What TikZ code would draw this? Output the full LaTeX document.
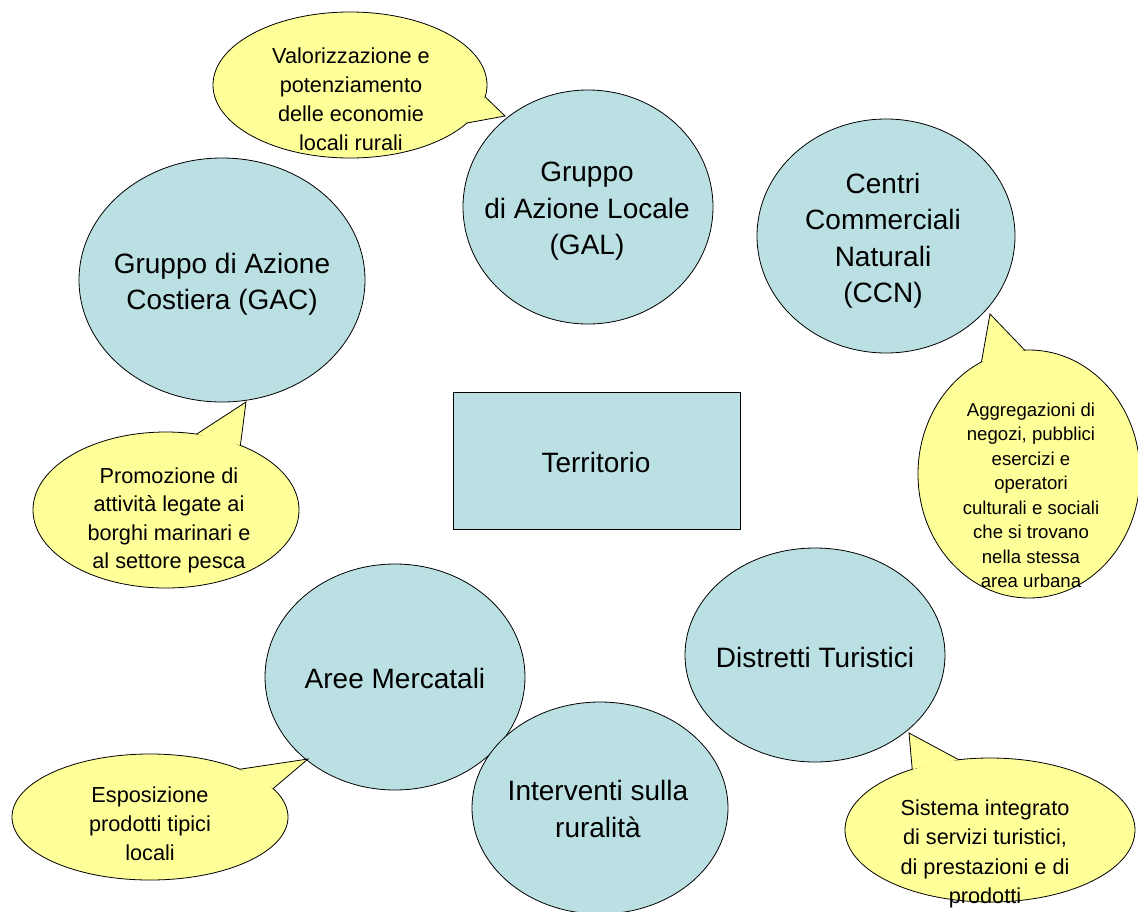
\documentclass[tikz,border=0pt]{standalone}
\usepackage{fontspec}
\setmainfont{Liberation Sans}
\usetikzlibrary{shapes.geometric}
\definecolor{bluefill}{RGB}{187,224,227}
\definecolor{yellowfill}{RGB}{255,255,153}
\newcommand\fBig{\fontsize{28}{36.5}\selectfont}
\newcommand\fMid{\fontsize{21.7}{29}\selectfont}
\newcommand\fSmall{\fontsize{18.6}{24.5}\selectfont}
\tikzset{
  blueshape/.style={ellipse, draw=black, line width=0.8pt, fill=bluefill, inner sep=0pt, outer sep=0pt},
  bluebox/.style={rectangle, draw=black, line width=0.8pt, fill=bluefill, inner sep=0pt, outer sep=0pt},
  bubble/.style={ellipse, draw=black, line width=0.8pt, fill=yellowfill, inner sep=0pt, outer sep=0pt},
  tailfill/.style={fill=yellowfill},
  tailline/.style={draw=black, line width=0.8pt, line join=miter},
  bigtext/.style={anchor=north, inner sep=0pt, align=center, font=\fBig},
  midtext/.style={anchor=north, inner sep=0pt, align=center, font=\fMid},
  smalltext/.style={anchor=north, inner sep=0pt, align=center, font=\fSmall},
}
\begin{document}
\begin{tikzpicture}[x=1pt,y=-1pt]
\useasboundingbox (0,0) rectangle (1138,911);
\clip (0,0) rectangle (1138,911);

% blue circles
\node[blueshape, minimum width=250pt, minimum height=234pt] (gal) at (588,207) {};
\node[blueshape, minimum width=258pt, minimum height=234pt] (ccn) at (886,236) {};
\node[blueshape, minimum width=286pt, minimum height=244pt] (gac) at (222,280) {};
\node[blueshape, minimum width=260pt, minimum height=226pt] (aree) at (395,677) {};
\node[blueshape, minimum width=256pt, minimum height=212pt] (interv) at (600,808) {};
\node[blueshape, minimum width=260pt, minimum height=214pt] (distr) at (815,655) {};
\node[bluebox, minimum width=287pt, minimum height=137pt] (terr) at (596.5,460.5) {};

\node[bigtext] (tgal) at (587,162) {Gruppo\\di Azione Locale\\(GAL)};
\node[bigtext] (tccn) at (883,173) {Centri\\Commerciali\\Naturali\\(CCN)};
\node[bigtext] (tgac) at (222,253) {Gruppo di Azione\\Costiera (GAC)};
\node[bigtext] (taree) at (395,668) {Aree Mercatali};
\node[bigtext] (tinterv) at (598,780) {Interventi sulla\\ruralità};
\node[bigtext] (tdistr) at (815,647) {Distretti Turistici};
\node[bigtext] (tterr) at (596,452) {Territorio};

% callout 1 (GAL)
\node[bubble, minimum width=274pt, minimum height=146pt] (c1) at (350,85) {};
\coordinate (c1tip) at (505,116);
\fill[tailfill] (c1.-5.4) -- (c1tip) -- (c1.-18.3) -- cycle;
\draw[tailline] (c1.-5.4) -- (c1tip) -- (c1.-18.3);
\node[midtext] (c1t) at (351,47.5) {Valorizzazione e\\potenziamento\\delle economie\\locali rurali};

% callout 2 (GAC)
\node[bubble, minimum width=266pt, minimum height=156pt] (c2) at (166,510) {};
\coordinate (c2tip) at (246,402);
\fill[tailfill] (c2.68.3) -- (c2tip) -- (c2.41) -- cycle;
\draw[tailline] (c2.68.3) -- (c2tip) -- (c2.41);
\node[midtext, font=\fontsize{21.7}{28.3}\selectfont] (c2t) at (169,467.5) {Promozione di\\attività legate ai\\borghi marinari e\\al settore pesca};

% callout 3 (CCN)
\node[bubble, minimum width=222pt, minimum height=248pt] (c3) at (1029,474) {};
\coordinate (c3tip) at (990,314);
\fill[tailfill] (c3.113.3) -- (c3tip) -- (c3.92.8) -- cycle;
\draw[tailline] (c3.113.3) -- (c3tip) -- (c3.92.8);
\node[smalltext] (c3t) at (1031,402.7) {Aggregazioni di\\negozi, pubblici\\esercizi e\\operatori\\culturali e sociali\\che si trovano\\nella stessa\\area urbana};

% callout 4 (Aree Mercatali)
\node[bubble, minimum width=276pt, minimum height=126pt] (c4) at (150,817) {};
\coordinate (c4tip) at (308,759);
\fill[tailfill] (c4.28.6) -- (c4tip) -- (c4.13.7) -- cycle;
\draw[tailline] (c4.28.6) -- (c4tip) -- (c4.13.7);
\node[midtext] (c4t) at (150,786.5) {Esposizione\\prodotti tipici\\locali};

% callout 5 (Distretti Turistici)
\node[bubble, minimum width=290pt, minimum height=144pt] (c5) at (990,830) {};
\coordinate (c5tip) at (909,733);
\fill[tailfill] (c5.142.7) -- (c5tip) -- (c5.114.9) -- cycle;
\draw[tailline] (c5.142.7) -- (c5tip) -- (c5.114.9);
\node[midtext, font=\fontsize{21.7}{29.3}\selectfont] (c5t) at (985,799.5) {Sistema integrato\\di servizi turistici,\\di prestazioni e di\\prodotti};
\end{tikzpicture}
\end{document}
